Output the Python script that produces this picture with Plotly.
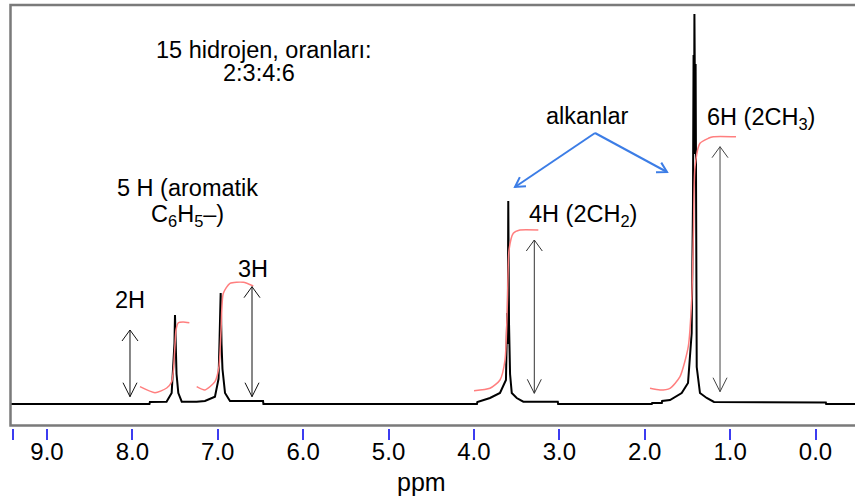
import math
import plotly.graph_objects as go

# ---------------- data ----------------
# 1H NMR spectrum trace (chemical shift in ppm, intensity in arbitrary units)
spec_ppm = [9.45, 7.80, 7.795, 7.60, 7.54, 7.519, 7.507, 7.501, 7.492, 7.483, 7.462, 7.422,
            7.247, 7.150, 7.033, 6.991, 6.978, 6.966, 6.956, 6.945, 6.915, 6.857, 6.470, 6.465,
            3.965, 3.960, 3.812, 3.695, 3.625, 3.610, 3.604, 3.598, 3.589, 3.577, 3.557, 3.499,
            3.422, 3.018, 3.014, 1.917, 1.913, 1.800, 1.796, 1.704, 1.567, 1.493, 1.450, 1.435,
            1.428, 1.423, 1.418, 1.411, 1.404, 1.391, 1.353, 1.274, 1.189, -0.121, -0.125, -0.47]
spec_int = [0, 0, 2, 2.3, 11, 40, 61, 89, 55, 30, 11, 2.3,
            2.3, 3, 7.3, 25, 68, 111, 60, 35, 11, 3, 3, 0,
            0, 2, 6, 11, 24, 91, 60, 203, 80, 30, 11, 6,
            2.3, 2.3, 0, 0, 1, 1, 3, 4, 11, 21, 71, 200,
            349, 250, 390, 300, 340, 37, 11, 6, 2, 1.5, 0, 0]

# integration curves (red)
int1_ppm = [7.911, 7.735, 7.598, 7.540, 7.519, 7.501, 7.489, 7.462, 7.407, 7.333]
int1_val = [17.3, 11.3, 16, 22.3, 34, 59, 74, 81.3, 82, 81.3]
int2_ppm = [7.247, 7.150, 7.033, 6.986, 6.962, 6.935, 6.857, 6.701, 6.584]
int2_val = [17.3, 14, 22.3, 37.3, 74, 110.7, 120.7, 121.7, 118]
int3_ppm = [3.999, 3.812, 3.695, 3.636, 3.607, 3.589, 3.539, 3.461, 3.246]
int3_val = [13.3, 15.7, 24, 44, 104, 154, 170.7, 174, 174]
int4_ppm = [1.938, 1.821, 1.704, 1.587, 1.490, 1.450, 1.429, 1.411, 1.353, 1.255, 1.197, 0.931]
int4_val = [15.7, 14, 15.7, 27.3, 57.3, 104, 174, 237.3, 260.7, 265.7, 267.3, 267.3]
integrals = [(int1_ppm, int1_val), (int2_ppm, int2_val), (int3_ppm, int3_val), (int4_ppm, int4_val)]

# integral-height double arrows: (ppm, bottom, top, colour)
arrow_ppm = [8.028, 6.599, 3.293, 1.118]
arrow_bottom = [7.3, 7.3, 10.7, 12.3]
arrow_top = [74, 117.3, 164, 257.3]
arrow_color = ["#111111", "#111111", "#333333", "#444444"]

# blue pointer arrows from "alkanlar"
pointer_origin = (2.582, 271)
pointer_tips = [(3.519, 217), (1.739, 232)]

tick_vals = [9.4, 9.0, 8.0, 7.0, 6.0, 5.0, 4.0, 3.0, 2.0, 1.0, 0.0]
tick_text = ["", "9.0", "8.0", "7.0", "6.0", "5.0", "4.0", "3.0", "2.0", "1.0", "0.0"]

# ---------------- layout geometry ----------------
W, H = 855, 504
ML, MR, MT, MB = 10, 0, 4, 76
PW, PH = W - ML - MR, H - MT - MB
x_range = [9.4332, -0.4626]
y_range = [-24, 400]
FONT = "Liberation Sans, Arial, sans-serif"
TS = 23.5

def to_px(x, y):
    px = (x_range[0] - x) / (x_range[0] - x_range[1]) * PW
    py = (y_range[1] - y) / (y_range[1] - y_range[0]) * PH
    return px, py

def to_data(px, py):
    x = x_range[0] - px / PW * (x_range[0] - x_range[1])
    y = y_range[1] - py / PH * (y_range[1] - y_range[0])
    return x, y

fig = go.Figure()

fig.add_trace(go.Scatter(x=spec_ppm, y=spec_int, mode="lines",
                         line=dict(color="black", width=2), hoverinfo="skip"))
for ip, iv in integrals:
    fig.add_trace(go.Scatter(x=ip, y=iv, mode="lines",
                             line=dict(color="#ff7f7f", width=1.5, shape="spline", smoothing=0.6),
                             hoverinfo="skip"))

shapes = []
# plot frame
shapes.append(dict(type="rect", xref="paper", yref="paper",
                   x0=0.5 / PW, x1=1.05, y0=2.5 / PH, y1=(PH - 1) / PH,
                   line=dict(color="#7a7a7a", width=2.5), fillcolor="rgba(0,0,0,0)"))

def path_from_px(points):
    pts = [to_data(px, py) for px, py in points]
    return "M " + " L ".join(f"{x:.5f},{y:.3f}" for x, y in pts)

for x, yb, yt, col in zip(arrow_ppm, arrow_bottom, arrow_top, arrow_color):
    pxb, pyb = to_px(x, yb)
    pxt, pyt = to_px(x, yt)
    shapes.append(dict(type="path", xref="x", yref="y",
                       path=path_from_px([(pxb, pyb), (pxt, pyt)]),
                       line=dict(color=col, width=1)))
    shapes.append(dict(type="path", xref="x", yref="y",
                       path=path_from_px([(pxt - 8, pyt + 11), (pxt, pyt), (pxt + 8, pyt + 11)]),
                       line=dict(color=col, width=1)))
    shapes.append(dict(type="path", xref="x", yref="y",
                       path=path_from_px([(pxb - 7, pyb - 14), (pxb, pyb), (pxb + 7, pyb - 14)]),
                       line=dict(color=col, width=1)))

ox, oy = to_px(*pointer_origin)
for tx, ty in pointer_tips:
    px, py = to_px(tx, ty)
    dx, dy = px - ox, py - oy
    L = math.hypot(dx, dy)
    ux, uy = dx / L, dy / L
    arm = 11
    ang = math.radians(30)
    a1 = (px - arm * (ux * math.cos(ang) - uy * math.sin(ang)),
          py - arm * (ux * math.sin(ang) + uy * math.cos(ang)))
    a2 = (px - arm * (ux * math.cos(-ang) - uy * math.sin(-ang)),
          py - arm * (ux * math.sin(-ang) + uy * math.cos(-ang)))
    shapes.append(dict(type="path", xref="x", yref="y",
                       path=path_from_px([(ox, oy), (px, py)]),
                       line=dict(color="#3c7de6", width=2)))
    shapes.append(dict(type="path", xref="x", yref="y",
                       path=path_from_px([a1, (px, py), a2]),
                       line=dict(color="#3c7de6", width=2)))

def txt(text, x, y, anchor="center", size=TS, yref="y"):
    return dict(text=text, x=x, y=y, xref="x", yref=yref, xanchor=anchor, yanchor="middle",
                showarrow=False, font=dict(family=FONT, size=size, color="black"))

annotations = [
    txt("15 hidrojen, oranları:", 6.453, 354),
    txt("2:3:4:6", 6.520, 331),
    txt("5 H (aromatik", 8.200, 216.5, "left"),
    txt("C<sub>6</sub>H<sub>5</sub>–)", 7.800, 188.5, "left"),
    txt("2H", 8.028, 104.5),
    txt("3H", 6.584, 135),
    txt("alkanlar", 2.680, 288.2),
    txt("4H (2CH<sub>2</sub>)", 3.380, 188.5, "left"),
    txt("6H (2CH<sub>3</sub>)", 1.290, 286, "left"),
    txt("ppm", 4.612, (PH + MT - 482) / PH, size=25, yref="paper"),
]

fig.update_layout(
    width=W, height=H,
    margin=dict(l=ML, r=MR, t=MT, b=MB, pad=0),
    paper_bgcolor="white", plot_bgcolor="white",
    showlegend=False,
    shapes=shapes, annotations=annotations,
    xaxis=dict(range=x_range, showgrid=False, zeroline=False, showline=False,
               tickmode="array", tickvals=tick_vals, ticktext=tick_text,
               ticks="outside", ticklen=11, tickwidth=2, tickcolor="#3c3cf0",
               ticklabelstandoff=-9,
               tickfont=dict(family=FONT, size=24, color="black")),
    yaxis=dict(range=y_range, visible=False, showgrid=False, zeroline=False),
)

fig.write_html("out.html")
